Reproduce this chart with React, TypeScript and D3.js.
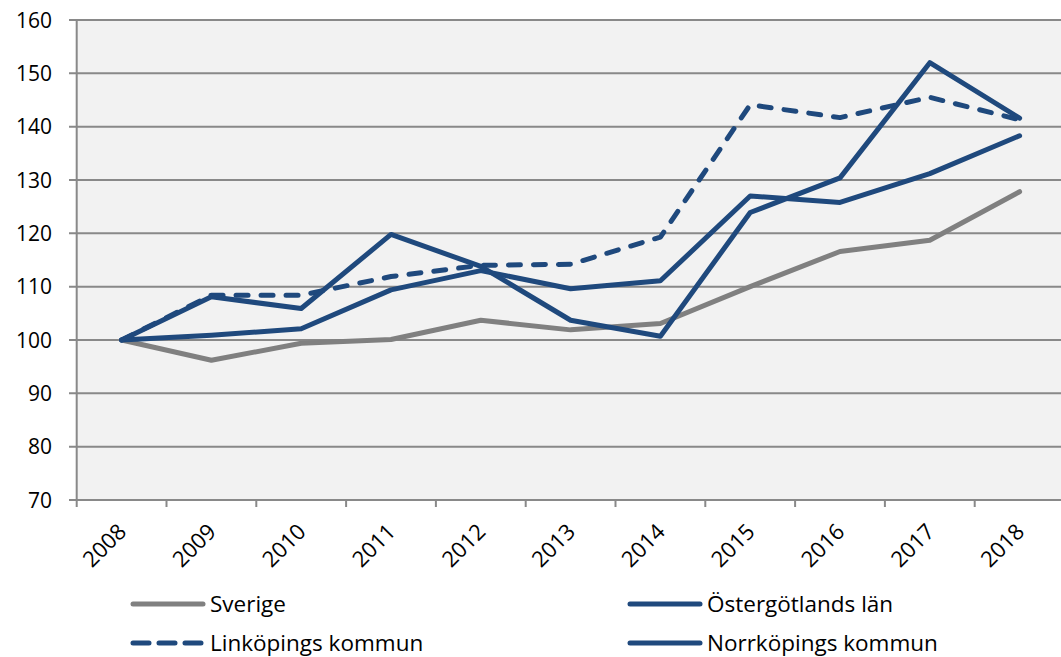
import React from 'react';
import * as d3 from 'd3';

const years = ['2008', '2009', '2010', '2011', '2012', '2013', '2014', '2015', '2016', '2017', '2018'];
const sverige = [100, 96.2, 99.4, 100.1, 103.7, 101.9, 103.1, 110, 116.6, 118.7, 127.8];
const ostergotland = [100, 100.9, 102.1, 109.4, 113, 109.6, 111.1, 127, 125.8, 131.2, 138.3];
const linkoping = [100, 108.4, 108.4, 111.9, 114, 114.2, 119.3, 144.1, 141.7, 145.5, 141.3];
const norrkoping = [100, 108.1, 105.9, 119.8, 113.8, 103.7, 100.7, 123.9, 130.4, 152, 141.6];
const yTicks = [70, 80, 90, 100, 110, 120, 130, 140, 150, 160];

const BLUE = '#1F497D';
const GREY = '#808080';
const GRID = '#898989';
const FONT = '"Open Sans", sans-serif';

const series = [
  { name: 'Sverige', values: sverige, color: GREY, dash: null },
  { name: 'Östergötlands län', values: ostergotland, color: BLUE, dash: null },
  { name: 'Linköpings kommun', values: linkoping, color: BLUE, dash: '12 13' },
  { name: 'Norrköpings kommun', values: norrkoping, color: BLUE, dash: null },
];

const App = () => {
  const left = 76.7;
  const top = 20;
  const bottom = 500;

  const x = d3.scaleBand().domain(years).range([left, left + 11 * 89.8]);
  const y = d3.scaleLinear().domain([70, 160]).range([bottom, top]);
  const cx = (yr) => x(yr) + x.bandwidth() / 2;

  const line = d3.line()
    .x((d, i) => cx(years[i]))
    .y(d => y(d));

  const legend = [
    { s: series[0], lx: 133, ly: 604 },
    { s: series[1], lx: 630, ly: 604 },
    { s: series[2], lx: 133, ly: 643 },
    { s: series[3], lx: 630, ly: 643 },
  ];

  return (
    <div style={{ position: 'absolute', left: 0, top: 0 }}>
      <svg width={1061} height={657} style={{ display: 'block', background: '#fff' }}>
        <rect x={left} y={top} width={1061 - left} height={bottom - top} fill="#F2F2F2" />
        {yTicks.map(t => (
          <g key={t}>
            <line x1={69} x2={1061} y1={y(t)} y2={y(t)} stroke={GRID} strokeWidth={2} />
            <text x={52} y={y(t)} dy="0.36em" textAnchor="end" fontFamily={FONT} fontSize={21} fill="#000">{t}</text>
          </g>
        ))}
        <line x1={left} x2={left} y1={top} y2={bottom + 1} stroke={GRID} strokeWidth={2} />
        {years.map(yr => (
          <line key={yr} x1={x(yr)} x2={x(yr)} y1={bottom} y2={bottom + 7} stroke={GRID} strokeWidth={2} />
        ))}
        {years.map(yr => (
          <text key={yr} transform={`translate(${cx(yr) + 6},533) rotate(-45)`} textAnchor="end"
            fontFamily={FONT} fontSize={22} fill="#000">{yr}</text>
        ))}
        {series.map(s => (
          <path key={s.name} d={line(s.values)} fill="none" stroke={s.color} strokeWidth={5}
            strokeLinejoin="round" strokeLinecap="round" strokeDasharray={s.dash || undefined} />
        ))}
        {legend.map(({ s, lx, ly }) => (
          <g key={s.name}>
            <line x1={lx} x2={lx + 70} y1={ly} y2={ly} stroke={s.color} strokeWidth={5}
              strokeLinecap="round" strokeDasharray={s.dash ? '16 10' : undefined} />
            <text x={lx + 77} y={ly} dy="0.36em" fontFamily={FONT} fontSize={22.5} fill="#000">{s.name}</text>
          </g>
        ))}
      </svg>
    </div>
  );
};

export default App;
